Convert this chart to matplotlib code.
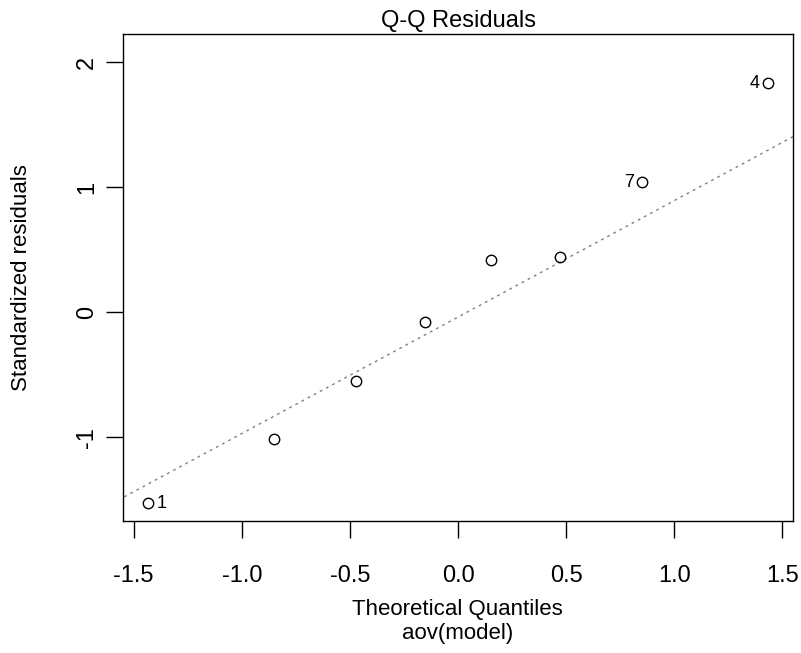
import numpy as np
import matplotlib.pyplot as plt

plt.rcParams['font.family'] = ['Liberation Sans', 'DejaVu Sans']

# theoretical quantiles and standardized residuals
theo = [-1.434, -0.852, -0.473, -0.153, 0.153, 0.473, 0.852, 1.434]
resid = [-1.528, -1.016, -0.552, -0.080, 0.416, 0.440, 1.040, 1.832]
obs_id = [1, 2, 3, 5, 6, 8, 7, 4]
labelled = [1, 7, 4]

xticks = [-1.5, -1.0, -0.5, 0.0, 0.5, 1.0, 1.5]
yticks = [-1, 0, 1, 2]

fig = plt.figure(figsize=(8.01, 6.53), dpi=100)
ax = fig.add_axes([0.1536, 0.2021, 0.8364, 0.7459])

# qqline through the quartiles
y = np.array(resid)
q1, q3 = np.quantile(y, [0.25, 0.75])
zq = 0.6744898
slope = (q3 - q1) / (2 * zq)
inter = q1 + slope * zq
xl = np.array([-1.6, 1.6])
ax.plot(xl, inter + slope * xl, color='#808080', lw=1, ls=(0, (2, 3)))

ax.plot(theo, resid, 'o', mfc='none', mec='black', ms=7.5, mew=1)

for xi, yi, lab in zip(theo, resid, obs_id):
    if lab in labelled:
        if xi < 0:
            ax.text(xi + 0.04, yi, str(lab), fontsize=13, ha='left', va='center')
        else:
            ax.text(xi - 0.04, yi, str(lab), fontsize=13, ha='right', va='center')

ax.set_xlim(-1.549, 1.549)
ax.set_ylim(-1.672, 2.228)
ax.set_xticks(xticks)
ax.set_xticklabels(['-1.5', '-1.0', '-0.5', '0.0', '0.5', '1.0', '1.5'])
ax.set_yticks(yticks)
ax.set_yticklabels([str(t) for t in yticks], rotation=90, va='center')
ax.tick_params(length=12, width=1, labelsize=17)
ax.tick_params(axis='x', pad=20)
ax.tick_params(axis='y', pad=6)
for s in ax.spines.values():
    s.set_linewidth(1)

ax.set_title('Q-Q Residuals', fontsize=17, pad=5)
fig.text(0.571, 1 - 610 / 653, 'Theoretical Quantiles', fontsize=16, ha='center', va='center')
fig.text(0.571, 1 - 634 / 653, 'aov(model)', fontsize=16, ha='center', va='center')
fig.text(22 / 801, 1 - 278 / 653, 'Standardized residuals', fontsize=16, rotation=90,
         ha='center', va='center')

fig.savefig('out.png', dpi=100)
